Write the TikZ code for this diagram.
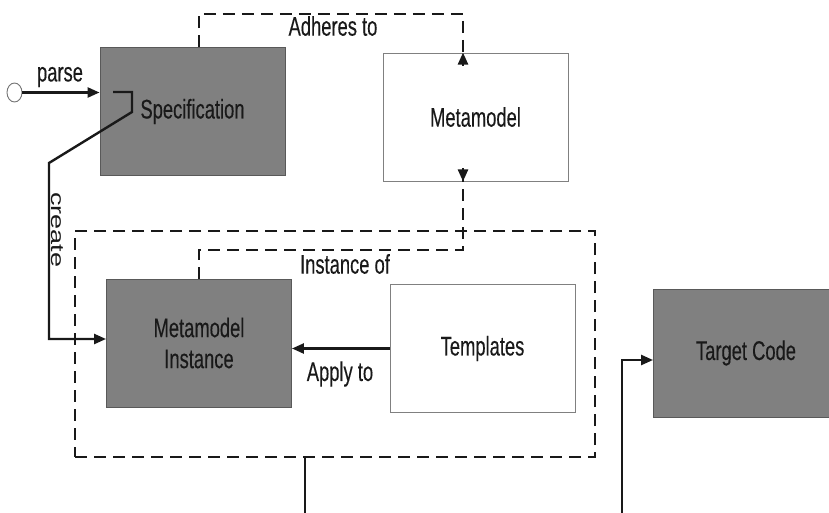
\documentclass[tikz,border=0pt]{standalone}
\usepackage{fontspec}
\setmainfont[FakeStretch=0.68,FakeBold=0.25]{Liberation Sans}
\newfontfamily\uprightlabel{Liberation Sans}
\usetikzlibrary{arrows.meta,shapes.geometric}
\begin{document}
\begin{tikzpicture}[x=1pt,y=-1pt,
  every node/.style={font=\fontsize{27}{31}\selectfont, text=black!90},
  darkbox/.style={draw=black!65, line width=0.9pt, fill=black!50, minimum width=185pt, minimum height=128pt, inner sep=0pt, align=center},
  lightbox/.style={draw=black!50, line width=0.9pt, fill=white, minimum width=185pt, minimum height=128pt, inner sep=0pt, align=center},
  flow/.style={line width=2.4pt, draw=black!90, -{Triangle[length=12pt,width=10pt]}},
  plain/.style={line width=2.4pt, draw=black!90},
  dep/.style={line width=2.4pt, draw=black!90, dash pattern=on 12pt off 7pt},
  lbl/.style={inner sep=0pt}
]
\useasboundingbox (0,0) rectangle (829,513);

% grouping frame around the instance and templates
\node[dep, draw, minimum width=520pt, minimum height=226pt, inner sep=0pt] (frame) at (335,344) {};

% main blocks
\node[darkbox] (spec) at (192.5,111.5) {Specification};
\node[lightbox] (meta) at (475.5,117) {Metamodel};
\node[darkbox] (inst) at (199,343) {Metamodel\\Instance};
\node[lightbox] (tmpl) at (482.5,348.5) {Templates};
\node[darkbox] (code) at (746,353) {Target Code};

% start marker
\node[draw=black!55, line width=0.9pt, fill=white, ellipse, minimum width=15pt, minimum height=19pt, inner sep=0pt] (start) at (14.5,92.5) {};

% parse
\draw[flow] (start.east) -- (start -| spec.west);
\node[lbl] (parselbl) at (60,77) {parse};

% create
\coordinate (c0) at (113,92);
\coordinate (c1) at (132,92);
\coordinate (c2) at (132,112);
\coordinate (c3) at (49,163);
\coordinate (c4) at (49,339);
\draw[flow] (c0) -- (c1) -- (c2) -- (c3) -- (c4) -- (c4 -| inst.west);
\begin{scope}[shift={(57,230)}]
  \node[lbl, font=\uprightlabel\fontsize{27}{31}\selectfont, transform shape, xscale=0.68, rotate=-90] (createlbl) at (0,0) {create};
\end{scope}

% adheres to
\coordinate (a1) at (199,14);
\coordinate (a2) at (463,14);
\draw[dep] (a1 |- spec.north) -- (a1) -- (a2) -- ([yshift=-12pt]a2 |- meta.north);
\draw[flow] ([yshift=-13pt]a2 |- meta.north) -- (a2 |- meta.north);
\node[lbl] (adhlbl) at (333,26) {Adheres to};

% instance of
\coordinate (i1) at (199,250);
\coordinate (i2) at (463,250);
\draw[dep] (i1 |- inst.north) -- (i1) -- (i2) -- ([yshift=12pt]i2 |- meta.south);
\draw[flow] ([yshift=13pt]i2 |- meta.south) -- (i2 |- meta.south);
\node[lbl] (instlbl) at (345,264) {Instance of};

% apply to
\draw[flow] (tmpl.west) -- (tmpl.west -| inst.east);
\node[lbl] (applbl) at (340,374) {Apply to};

% outgoing lines at the bottom
\coordinate (b1) at (305,513);
\draw[plain] (frame.south -| b1) -- (b1);
\coordinate (b2) at (622,513);
\coordinate (b3) at (622,360);
\draw[flow] (b2) -- (b3) -- (b3 -| code.west);
\end{tikzpicture}
\end{document}
